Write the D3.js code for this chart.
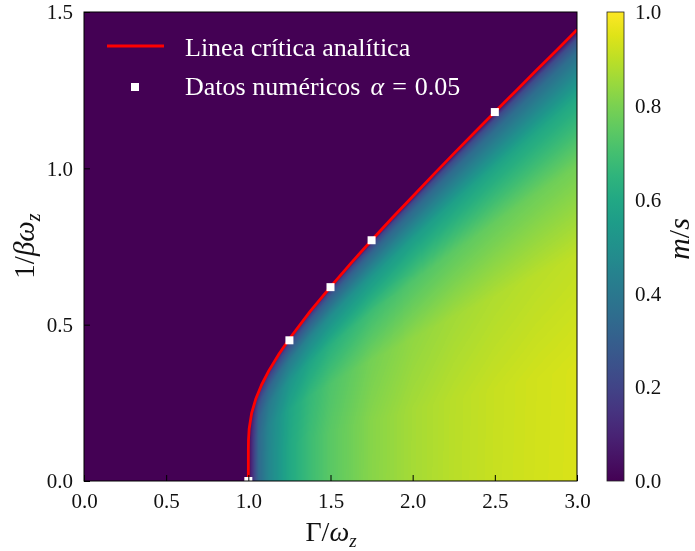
<!DOCTYPE html>
<html>
<head>
<meta charset="utf-8">
<script src="https://cdn.jsdelivr.net/npm/d3@7"></script>
<style>
  body { margin: 0; background: #fff; }
  #chart { position: relative; width: 695px; height: 551px; }
  #chart canvas, #chart svg { position: absolute; left: 0; top: 0; }
</style>
</head>
<body>
<div id="chart"></div>
<script>
// heat map columns (Gamma/omega_z) and rows given as fraction of the critical temperature
const gammaCols = [1.0, 1.0625, 1.125, 1.25, 1.375, 1.5, 1.75, 2.0, 2.25, 2.5, 2.75, 3.0];
const tauRows = [0, 0.25, 0.5, 0.7, 0.85, 0.95, 0.98, 1.0];

// m/s, one row per tau
const magGrid = [
  [0, 0.338, 0.458, 0.600, 0.686, 0.745, 0.821, 0.866, 0.896, 0.917, 0.932, 0.943],
  [0, 0.338, 0.458, 0.600, 0.686, 0.745, 0.820, 0.866, 0.895, 0.916, 0.931, 0.942],
  [0, 0.334, 0.451, 0.586, 0.667, 0.722, 0.792, 0.835, 0.862, 0.881, 0.895, 0.905],
  [0, 0.306, 0.405, 0.519, 0.587, 0.633, 0.691, 0.726, 0.749, 0.765, 0.776, 0.785],
  [0, 0.245, 0.316, 0.401, 0.450, 0.485, 0.527, 0.554, 0.570, 0.583, 0.591, 0.597],
  [0, 0.150, 0.192, 0.244, 0.271, 0.295, 0.317, 0.335, 0.343, 0.352, 0.356, 0.359],
  [0, 0.096, 0.122, 0.157, 0.173, 0.190, 0.202, 0.215, 0.218, 0.226, 0.228, 0.229],
  [0, 0, 0, 0, 0, 0, 0, 0, 0, 0, 0, 0]
];

// analytic critical line
const critGamma = [1.0, 1.0001, 1.001, 1.005, 1.02, 1.045, 1.08, 1.125, 1.1875, 1.25, 1.375, 1.5, 1.625, 1.75, 1.875, 2.0, 2.125, 2.25, 2.375, 2.5, 2.625, 2.75, 2.875, 3.0];
const critTemp = [0, 0.101, 0.132, 0.167, 0.217, 0.262, 0.307, 0.353, 0.407, 0.455, 0.542, 0.621, 0.697, 0.770, 0.841, 0.910, 0.979, 1.047, 1.114, 1.180, 1.246, 1.312, 1.377, 1.443];

// numerical points (alpha = 0.05)
const numGamma = [1.0, 1.25, 1.5, 1.75, 2.5];
const numTemp = [0.0, 0.45, 0.62, 0.77, 1.18];

const xTicks = [0, 0.5, 1.0, 1.5, 2.0, 2.5, 3.0];
const yTicks = [0, 0.5, 1.0, 1.5];
const cbTicks = [0, 0.2, 0.4, 0.6, 0.8, 1.0];

const width = 695, height = 551;
const plotL = 84, plotR = 577, plotT = 12, plotB = 481;
const cbX = 607, cbW = 17;
const font = "'Liberation Serif', 'Times New Roman', serif";

const x = d3.scaleLinear().domain([0, 3]).range([plotL, plotR]);
const y = d3.scaleLinear().domain([0, 1.5]).range([plotB, plotT]);
const color = d3.scaleSequential(d3.interpolateViridis).domain([0, 1]);

const chart = d3.select("#chart");

// ---- heat map on a canvas underneath ----
const canvas = chart.append("canvas").attr("width", width).attr("height", height).node();
const ctx = canvas.getContext("2d");

const W = plotR - plotL, H = plotB - plotT;
const img = ctx.createImageData(W, H);
const lut = d3.range(256).map(i => d3.rgb(color(i / 255)));
const bg = lut[0];
for (let k = 0; k < W * H; k++) {
  img.data[4 * k] = bg.r; img.data[4 * k + 1] = bg.g; img.data[4 * k + 2] = bg.b; img.data[4 * k + 3] = 255;
}

const tcScale = d3.scaleLinear().domain(critGamma).range(critTemp).clamp(true);
const rowScales = magGrid.map(row => d3.scaleLinear().domain(gammaCols).range(row).clamp(true));

for (let px = 0; px < W; px++) {
  const g = x.invert(plotL + px + 0.5);
  if (g <= 1) continue;
  const tc = tcScale(g);
  const tauScale = d3.scaleLinear().domain(tauRows).range(rowScales.map(s => s(g))).clamp(true);
  for (let py = 0; py < H; py++) {
    const t = y.invert(plotT + py + 0.5);
    if (t >= tc) continue;
    const c = lut[Math.round(Math.max(0, Math.min(1, tauScale(t / tc))) * 255)];
    const k = 4 * (py * W + px);
    img.data[k] = c.r; img.data[k + 1] = c.g; img.data[k + 2] = c.b;
  }
}
ctx.putImageData(img, plotL, plotT);

// ---- everything else in svg on top ----
const svg = chart.append("svg").attr("width", width).attr("height", height)
  .style("font-family", font);

svg.append("defs").append("clipPath").attr("id", "plotClip")
  .append("rect").attr("x", plotL).attr("y", plotT).attr("width", W).attr("height", H);

const critPts = critGamma.map((g, i) => [g, critTemp[i]]);
const lineGen = d3.line().x(d => x(d[0])).y(d => y(d[1]));
svg.append("path")
  .attr("d", lineGen(critPts))
  .attr("fill", "none")
  .attr("stroke", "#ff0000")
  .attr("stroke-width", 2.8)
  .attr("stroke-linejoin", "round")
  .attr("clip-path", "url(#plotClip)");

const ms = 8;
svg.append("g").attr("clip-path", "url(#plotClip)")
  .selectAll("rect")
  .data(numGamma.map((g, i) => [g, numTemp[i]]))
  .join("rect")
  .attr("x", d => x(d[0]) - ms / 2)
  .attr("y", d => y(d[1]) - ms / 2)
  .attr("width", ms)
  .attr("height", ms)
  .attr("fill", "white");

// axes, ticks pointing in
const xAxis = svg.append("g").attr("transform", `translate(0,${plotB})`)
  .call(d3.axisBottom(x).tickValues(xTicks).tickFormat(d3.format(".1f")).tickSize(-6).tickPadding(12));
const yAxis = svg.append("g").attr("transform", `translate(${plotL},0)`)
  .call(d3.axisLeft(y).tickValues(yTicks).tickFormat(d3.format(".1f")).tickSize(-6).tickPadding(11));
[xAxis, yAxis].forEach(a => {
  a.select(".domain").remove();
  a.selectAll("line").attr("stroke", "#000").attr("stroke-width", 1);
  a.selectAll("text").attr("font-family", font).attr("font-size", 21).attr("fill", "#111");
});

svg.append("rect")
  .attr("x", plotL).attr("y", plotT)
  .attr("width", W).attr("height", H)
  .attr("fill", "none").attr("stroke", "#000").attr("stroke-width", 1);

// axis labels
const xl = svg.append("text").attr("x", 331).attr("y", 541)
  .attr("text-anchor", "middle").attr("font-size", 28).attr("fill", "#111");
xl.append("tspan").text("Γ/");
xl.append("tspan").attr("font-style", "italic").text("ω");
xl.append("tspan").attr("font-style", "italic").attr("font-size", 19).attr("dy", 6).text("z");

const yl = svg.append("text").attr("transform", "translate(34,246) rotate(-90)")
  .attr("text-anchor", "middle").attr("font-size", 29).attr("fill", "#111");
yl.append("tspan").text("1/");
yl.append("tspan").attr("font-style", "italic").text("βω");
yl.append("tspan").attr("font-style", "italic").attr("font-size", 20).attr("dy", 6).text("z");

// legend
svg.append("line").attr("x1", 107).attr("x2", 164).attr("y1", 46).attr("y2", 46)
  .attr("stroke", "#ff0000").attr("stroke-width", 2.8);
svg.append("text").attr("x", 185).attr("y", 56).attr("font-size", 26).attr("fill", "white")
  .text("Linea crítica analítica");
svg.append("rect").attr("x", 135 - ms / 2).attr("y", 87 - ms / 2).attr("width", ms).attr("height", ms).attr("fill", "white");
const lt = svg.append("text").attr("x", 185).attr("y", 95).attr("font-size", 26).attr("fill", "white");
lt.append("tspan").text("Datos numéricos");
lt.append("tspan").attr("dx", 10).attr("font-style", "italic").text("α");
lt.append("tspan").attr("dx", 8).text("=");
lt.append("tspan").attr("dx", 8).text("0.05");

// colorbar
const grad = svg.select("defs").append("linearGradient").attr("id", "cbGrad")
  .attr("x1", 0).attr("y1", 1).attr("x2", 0).attr("y2", 0);
d3.range(0, 1.0001, 0.05).forEach(t => {
  grad.append("stop").attr("offset", t).attr("stop-color", color(t));
});
svg.append("rect").attr("x", cbX).attr("y", plotT).attr("width", cbW).attr("height", H)
  .attr("fill", "url(#cbGrad)").attr("stroke", "#222").attr("stroke-width", 0.8);

const cbScale = d3.scaleLinear().domain([0, 1]).range([plotB, plotT]);
const cbAxis = svg.append("g").attr("transform", `translate(${cbX + cbW},0)`)
  .call(d3.axisRight(cbScale).tickValues(cbTicks).tickFormat(d3.format(".1f")).tickSize(0).tickPadding(11));
cbAxis.select(".domain").remove();
cbAxis.selectAll("text").attr("font-family", font).attr("font-size", 21).attr("fill", "#111");

const cl = svg.append("text").attr("transform", "translate(689,239) rotate(-90)")
  .attr("text-anchor", "middle").attr("font-size", 30).attr("fill", "#111");
cl.append("tspan").attr("font-style", "italic").text("m");
cl.append("tspan").text("/");
cl.append("tspan").attr("font-style", "italic").text("s");
</script>
</body>
</html>
